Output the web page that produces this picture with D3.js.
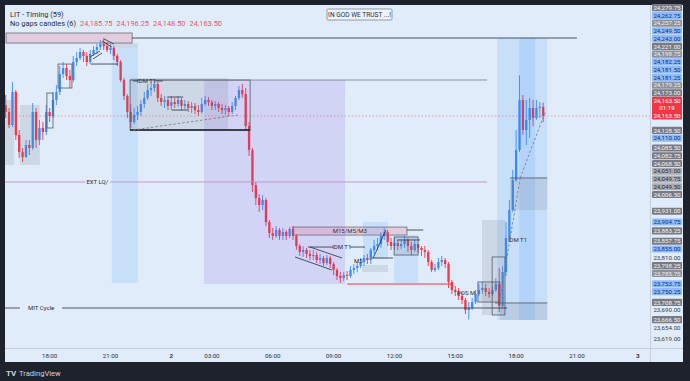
<!DOCTYPE html>
<html><head><meta charset="utf-8">
<script src="https://cdn.jsdelivr.net/npm/d3@7/dist/d3.min.js"></script>
<style>
html,body{margin:0;padding:0;background:#1e222d;overflow:hidden;}
svg{display:block;font-family:Roboto,"Liberation Sans",sans-serif;}
</style></head><body>
<svg id="c" width="690" height="381"></svg>
<script>
// ---------------- DATA ----------------
const sessions = [
  {day: 1, start: "15:50", count: 49},
  {day: 2, start: "01:00", count: 111}
];
const openFirst = 24190.25;
const closes = [
 24173.25,24141.5,24222,24117,24075.5,24063.5,24092.75,24085.5,24173.25,24105,
 24134.25,24124.5,24173.25,24163.5,24202.5,24222,24266,24280.5,24261,24251.25,
 24295.25,24305,24319.5,24310,24295.25,24314.75,24324.5,24331.75,24339,24334.25,
 24324.5,24329.5,24310,24295.25,24251.25,24212.25,24173.25,24148.75,24166,24173.25,
 24192.75,24207.5,24227,24231.75,24241.5,24207.5,24197.5,24202.5,24188,
 24197.5,24192.75,24202.5,24188,24192.75,24183,24188,24178,24173.25,24192.75,
 24202.5,24197.5,24188,24192.75,24183,24178,24183,24173.25,24188,24207.5,
 24227,24217,24139,24080.5,23995,23963.5,23946.25,23958.5,23904.75,23878,
 23870.75,23885.25,23870.75,23880.5,23870.75,23887.75,23870.75,23846.25,23831.5,23836.5,
 23826.75,23822,23824.25,23812,23817,23804.75,23817,23802.25,23787.75,23773,
 23768.25,23775.5,23773,23787.75,23792.5,23797.5,23807.25,23817,23812,23836.5,
 23846.25,23851,23870.75,23880.5,23856,23846.25,23853.5,23846.25,23851,23861,
 23846.25,23836.5,23851,23841.5,23836.5,23831.5,23807.25,23787.75,23792.5,23807.25,
 23812,23802.25,23758.5,23739,23734,23724.25,23714.5,23690,23695,23709.5,
 23729,23739,23743.75,23734,23729,23739,23753.75,23700,23782.75,23865.75,
 23934,24007.25,24080.5,24202.5,24129.25,24153.75,24183,24158.5,24183,24185.75,24163.5
];
const highs = [
 24214.75,24183,24246.5,24227,24129.25,24085.5,24105,24105,24195.25,24183,
 24153.75,24148.75,24190.25,24183,24222,24239,24285.5,24295.25,24290.25,24275.75,
 24310,24319.5,24329.5,24324.5,24319.5,24324.5,24334.25,24339,24349,24353.75,
 24344,24339,24334.25,24314.75,24300,24256.25,24217,24192.75,24183,24188,
 24202.5,24222,24241.5,24246.5,24251.25,24246.5,24217,24212.25,24207.5,
 24212.25,24207.5,24212.25,24207.5,24202.5,24200,24197.5,24195.25,24190.25,24207.5,
 24212.25,24209.75,24202.5,24200,24197.5,24192.75,24190.25,24188,24197.5,24212.25,
 24236.75,24241.5,24231.75,24148.75,24085.5,24002.5,23973,23970.75,23963.5,23909.75,
 23890.25,23895,23890.25,23890.25,23885.25,23892.5,23895,23875.5,23851,23846.25,
 23841.5,23836.5,23836.5,23831.5,23826.75,23822,23824.25,23822,23807.25,23792.5,
 23782.75,23782.75,23785.25,23797.5,23802.25,23807.25,23817,23824.25,23826.75,23841.5,
 23861,23865.75,23880.5,23890.25,23885.25,23865.75,23865.75,23861,23861,23870.75,
 23865.75,23856,23861,23851,23846.25,23846.25,23836.5,23812,23802.25,23817,
 23822,23817,23807.25,23763.25,23748.75,23743.75,23734,23719.5,23709.5,23719.5,
 23739,23753.75,23758.5,23753.75,23743.75,23748.75,23768.25,23792.5,23797.5,23904.75,
 23958.5,24031.75,24129.25,24262.75,24214.75,24202.5,24207.5,24202.5,24202.5,24197.5,24196.25
];
const lows = [
 24158.5,24134.25,24136.5,24105,24061,24051.25,24061,24068.25,24080.5,24085.5,
 24092.75,24105,24117,24148.75,24158.5,24190.25,24214.75,24256.25,24251.25,24231.75,
 24246.5,24285.5,24300,24295.25,24285.5,24290.25,24310,24314.75,24324.5,24324.5,
 24319.5,24314.75,24300,24285.5,24246.5,24202.5,24158.5,24134.25,24144,24153.75,
 24163.5,24183,24202.5,24212.25,24222,24197.5,24188,24183,24178,
 24178,24183,24185.5,24178,24180.5,24173.25,24170.75,24168.25,24163.5,24168.25,
 24188,24188,24178,24178,24173.25,24168.25,24166,24163.5,24168.25,24178,
 24202.5,24207.5,24129.25,24066,23978,23946.25,23929.25,23934,23895,23865.75,
 23861,23865.75,23861,23861,23861,23865.75,23861,23836.5,23822,23819.5,
 23817,23812,23812,23804.75,23802.25,23797.5,23800,23792.5,23775.5,23763.25,
 23756,23760.75,23763.25,23768.25,23778,23782.75,23792.5,23797.5,23802.25,23802.25,
 23826.75,23836.5,23841.5,23861,23846.25,23836.5,23836.5,23836.5,23839,23841.5,
 23831.5,23824.25,23831.5,23829.25,23822,23817,23797.5,23782.75,23782.75,23787.75,
 23797.5,23792.5,23743.75,23729,23724.25,23714.5,23704.75,23680.25,23666.5,23690,
 23704.75,23724.25,23729,23724.25,23719.5,23724.25,23734,23685.25,23695,23773,
 23861,23929.25,24002.5,24075.5,24117,24092.75,24110,24139,24153.75,24158.5,24148.5
];
const tickLabels = ["18:00","21:00","2","03:00","06:00","09:00","12:00","15:00","18:00","21:00","3"];
const tickTimes  = ["1 18:00","1 21:00","2 01:00","2 03:00","2 06:00","2 09:00","2 12:00","2 15:00","2 18:00","2 21:00","3 01:00"];
const axisLabelPrices = [24279.75,24262.75,24257.25,24249.5,24243,24221,24198.75,24182.25,24181.5,24181.25,24179.25,24173,
 24128.5,24110,24085.5,24082.75,24068.5,24051,24049.75,24049.5,24006.5,23931,23904.75,23883.25,23857.75,23855,
 23798.25,23785.75,23753.75,23750.25,23708.75,23666.5];
const axisLabelKinds = ["dark","blue","gray","blue","blue","dark","gray","blue","blue","blue","gray","dark",
 "dark","blue","dark","dark","dark","light","light","light","dark","dark","blue","dark","dark","blue",
 "dark","gray","blue","blue","dark","dark"];
const plainTicks = [24150, 23810, 23770, 23690, 23654, 23619];
const countdown = "01:19";
const legendValues = [24185.75, 24196.25, 24148.50, 24163.50];

// drawings: [barFrom, barTo, priceTop, priceBottom, kind]
const zones = [
 [0.1, 37.4, 24366, 24341.5, "pink"],
 [28.8, 39.1, 24341.5, 24329.5, "gray"],
 [31.4, 39.1, 24329.5, 23756, "blue"],
 [-0.2, 2.5, 24202.5, 24044, "gray"],
 [4.2, 10.1, 24190.25, 24044, "gray"],
 [36.8, 65.8, 24256.25, 24129.25, "gray"],
 [58.7, 100.4, 24251.25, 23753.5, "purple"],
 [85, 118.7, 23892.5, 23873, "pink"],
 [105.7, 113.1, 23904.75, 23815, "blue"],
 [114.9, 122, 23873, 23756, "blue"],
 [105.4, 113.1, 23800, 23782.75, "gray"],
 [114.9, 122, 23868.25, 23824.25, "gray"],
 [140.9, 147.7, 23909.75, 23678, "gray"],
 [139.7, 146.2, 23758.5, 23709.5, "gray"],
 [145.4, 160.2, 24353.75, 23665.75, "blue"],
 [151.9, 156.6, 24353.75, 23665.75, "blue"],
 [149.2, 160.2, 24012.25, 23934, "gray"],
 [146.2, 160.2, 23707.25, 23665.75, "gray"]
];
const boxes = [
 [36.8, 72.3, 24251.25, 24129.25],
 [15.5, 19.6, 24290.25, 24231.75],
 [12.2, 14, 24219.5, 24134.25],
 [114.9, 122, 23868.25, 23824.25],
 [143.9, 147.7, 23819.5, 23678],
 [139.7, 146.2, 23758.5, 23709.5]
];
// [barFrom, priceFrom, barTo, priceTo, kind]
const segments = [
 [37.4, 24353.75, 169, 24353.75, "black"],
 [36.8, 24251.25, 142.4, 24251.25, "thin"],
 [36.8, 24129.25, 72.3, 24129.25, "thick"],
 [-0.2, 24002.5, 23.5, 24002.5, "lq"],
 [30.9, 24002.5, 142.4, 24002.5, "lq"],
 [-0.2, 23695, 4.2, 23695, "black"],
 [16.7, 23695, 148.3, 23695, "black"],
 [101, 23753.5, 132.3, 23753.5, "red"],
 [37.7, 24249, 39.2, 24249, "black"],
 [44.3, 24249, 46.5, 24249, "black"],
 [47.8, 24209.75, 52.5, 24209.75, "black"],
 [49.2, 24178, 53.9, 24178, "black"],
 [37.7, 24129.25, 68.7, 24166, "dash"],
 [25.2, 24290.25, 33.2, 24290.25, "black"],
 [24.9, 24307.4, 27.9, 24322, "black"],
 [25.8, 24302.5, 28.5, 24317.2, "black"],
 [28.5, 24346.5, 31.4, 24331.8, "black"],
 [29.1, 24351.4, 32, 24339.1, "black"],
 [85.6, 23819.5, 96.5, 23787.75, "black"],
 [90, 23843.75, 99.5, 23817, "black"],
 [89.4, 23843.75, 96.8, 23843.75, "black"],
 [101.9, 23843.75, 106.3, 23843.75, "black"],
 [118.7, 23885.25, 123.5, 23885.25, "black"],
 [108.4, 23817, 114.6, 23817, "black"],
 [115.8, 23861, 122.6, 23861, "black"],
 [108.7, 23817, 112.5, 23885.3, "black"],
 [144.8, 23707.25, 160.2, 23707.25, "dark"],
 [149.2, 24012.25, 160.2, 24012.25, "dark"],
 [146.2, 23714.5, 152.2, 24012.25, "dash"],
 [152.2, 24012.25, 159.6, 24173.25, "dash"]
];
// [text, bar, price]
const notes = [
 ["IDM T1", 41.7, 24249],
 ["EXT LQ/", 27.1, 24002.5],
 ["MIT Cycle", 10.5, 23695],
 ["M15/M5/M3", 101.8, 23882.75],
 ["IDM T1", 99.4, 23843.75],
 ["M5", 104.3, 23810],
 ["POS M", 136.2, 23731.5],
 ["IDM T1", 151.4, 23861]
];

// ---------------- CHART ----------------
const svg = d3.select("#c");
const BG = "#e0ecfa";
const L = 5, R = 650, T = 5, B = 348, AXR = 683, BOT = 362;

function barIndex(day, hh, mm) {
  const t = (day - 1) * 1440 + hh * 60 + mm;
  return (t - 950 - (day - 1) * 60) / 10;
}
function parseT(s) { const [d, hm] = s.split(" "); const [h, m] = hm.split(":").map(Number); return barIndex(+d, h, m); }

const bars = [];
sessions.forEach(s => {
  const [h, m] = s.start.split(":").map(Number);
  for (let i = 0; i < s.count; i++) {
    const mins = h * 60 + m + 10 * i;
    bars.push(barIndex(s.day, Math.floor(mins / 60), mins % 60));
  }
});
const data = bars.map((k, i) => ({
  k, o: i === 0 ? openFirst : closes[i - 1], h: highs[i], l: lows[i], c: closes[i]
}));

const x = d3.scaleLinear().domain([-0.2, 190.6]).range([L, R]);
const y = d3.scaleLinear().domain([23597.4, 24434.3]).range([B, T]);

// frame
svg.append("rect").attr("x", 0).attr("y", 0).attr("width", 690).attr("height", 381).attr("fill", "#1e222d");
svg.append("rect").attr("x", L).attr("y", T).attr("width", AXR - L).attr("height", BOT - T).attr("fill", BG);

const clip = svg.append("defs").append("clipPath").attr("id", "plot");
clip.append("rect").attr("x", L).attr("y", T).attr("width", R - L).attr("height", B - T);
const plot = svg.append("g").attr("clip-path", "url(#plot)");

// candles
const up = "#3d8cf5", dn = "#f23645";
const bw = 2.3;
const cg = plot.append("g");
cg.selectAll("line.w").data(data).join("line")
  .attr("x1", d => x(d.k)).attr("x2", d => x(d.k))
  .attr("y1", d => y(d.h)).attr("y2", d => y(d.l))
  .attr("stroke", d => d.c >= d.o ? up : dn).attr("stroke-width", 0.9);
cg.selectAll("rect.b").data(data).join("rect")
  .attr("x", d => x(d.k) - bw / 2).attr("width", bw)
  .attr("y", d => y(Math.max(d.o, d.c)))
  .attr("height", d => Math.max(1, Math.abs(y(d.o) - y(d.c))))
  .attr("fill", d => d.c >= d.o ? up : dn);

// zones
const zoneFill = {
  pink: "rgba(232,92,130,0.22)", gray: "rgba(110,118,135,0.17)",
  blue: "rgba(40,140,245,0.13)", purple: "rgba(130,90,220,0.16)"
};
plot.append("g").selectAll("rect").data(zones).join("rect")
  .attr("x", d => x(d[0])).attr("width", d => x(d[1]) - x(d[0]))
  .attr("y", d => y(d[2])).attr("height", d => y(d[3]) - y(d[2]))
  .attr("fill", d => zoneFill[d[4]])
  .attr("stroke", d => d[4] === "pink" ? "#6b6b75" : "none").attr("stroke-width", 0.8);
plot.append("g").selectAll("rect").data(boxes).join("rect")
  .attr("x", d => x(d[0])).attr("width", d => x(d[1]) - x(d[0]))
  .attr("y", d => y(d[2])).attr("height", d => y(d[3]) - y(d[2]))
  .attr("fill", "none").attr("stroke", "#555a66").attr("stroke-width", 0.8);

// current price line
const last = data[data.length - 1].c;
plot.append("line").attr("x1", L).attr("x2", R).attr("y1", y(last)).attr("y2", y(last))
  .attr("stroke", "#f23645").attr("stroke-opacity", 0.55).attr("stroke-dasharray", "1.5,2").attr("stroke-width", 0.8);

// segments
const segStyle = {
  black: ["#2a2e39", 0.8, null], thin: ["#6a7080", 0.7, null], thick: ["#1b1e26", 1.6, null],
  lq: ["#c690c8", 0.9, null], red: ["#f23645", 1, null], dash: ["#7b808c", 0.9, "2.5,2"], dark: ["#5a5f6b", 0.9, null]
};
plot.append("g").selectAll("line").data(segments).join("line")
  .attr("x1", d => x(d[0])).attr("y1", d => y(d[1])).attr("x2", d => x(d[2])).attr("y2", d => y(d[3]))
  .attr("stroke", d => segStyle[d[4]][0]).attr("stroke-width", d => segStyle[d[4]][1])
  .attr("stroke-dasharray", d => segStyle[d[4]][2]);

plot.append("g").selectAll("text").data(notes).join("text")
  .attr("x", d => x(d[1])).attr("y", d => y(d[2]) + 2.1)
  .attr("text-anchor", "middle").attr("font-size", 6).attr("fill", "#2a2e39").text(d => d[0]);

// separators
svg.append("line").attr("x1", L).attr("x2", AXR).attr("y1", B + 0.5).attr("y2", B + 0.5).attr("stroke", "#c3cddb").attr("stroke-width", 1);
svg.append("line").attr("x1", R + 0.5).attr("x2", R + 0.5).attr("y1", T).attr("y2", BOT).attr("stroke", "#c3cddb").attr("stroke-width", 1);

// time axis
svg.append("g").selectAll("text").data(tickLabels).join("text")
  .attr("x", (d, i) => x(parseT(tickTimes[i]))).attr("y", 357.5)
  .attr("text-anchor", "middle").attr("font-size", 6.2)
  .attr("font-weight", d => d.length === 1 ? "bold" : "normal")
  .attr("fill", "#2a2e39").text(d => d);

// price axis: coloured labels stacked away from the last-price box
const fmt = d3.format(",.2f");
const LH = 7.75;
const ag = svg.append("g");
const yl = y(last);
const boxTop = yl - 19.2, boxBot = yl + 3.6;
const lab = axisLabelPrices.map((p, i) => ({p, kind: axisLabelKinds[i], cy: y(p)}));
let edge = boxTop;
lab.filter(d => d.p > last).sort((a, b) => a.p - b.p).forEach(d => { d.cy = Math.min(d.cy, edge - LH / 2); edge = d.cy - LH / 2; });
edge = boxBot;
lab.filter(d => d.p < last).sort((a, b) => b.p - a.p).forEach(d => { d.cy = Math.max(d.cy, edge + LH / 2); edge = d.cy + LH / 2; });

// plain scale ticks fit into the free gaps between coloured labels
const occupied = lab.map(d => [d.cy - LH / 2, d.cy + LH / 2]).concat([[boxTop, boxBot]]).sort((a, b) => a[0] - b[0]);
const plainPlaced = [];
plainTicks.forEach(p => {
  const ty = y(p);
  let best = null;
  // candidate gaps
  const ints = [[T, T]].concat(occupied).concat([[B, B]]);
  for (let i = 0; i < ints.length - 1; i++) {
    const lo = ints[i][1] + LH / 2, hi = ints[i + 1][0] - LH / 2;
    if (hi < lo - 0.01) continue;
    const c = Math.max(lo, Math.min(hi, ty));
    if (Math.abs(c - ty) <= 4.5 && (best === null || Math.abs(c - ty) < Math.abs(best - ty))) best = c;
  }
  if (best !== null) { plainPlaced.push({p, cy: best}); occupied.push([best - LH / 2, best + LH / 2]); occupied.sort((a, b) => a[0] - b[0]); }
});
ag.selectAll("text.p").data(plainPlaced).join("text")
  .attr("x", 667).attr("y", d => d.cy + 2.2).attr("text-anchor", "middle")
  .attr("font-size", 6.2).attr("fill", "#3a3e48").text(d => fmt(d.p));

const kindFill = {blue: "#8fbcf7", dark: "#787b84", gray: "#8e9199", light: "#a9acb3"};
const kindText = {blue: "#0f2d86", dark: "#f2f3f5", gray: "#eceef2", light: "#2f323a"};
const lg = ag.selectAll("g.l").data(lab).join("g");
lg.append("rect").attr("x", 652).attr("width", 30).attr("y", d => d.cy - LH / 2 + 0.3).attr("height", LH - 0.6)
  .attr("rx", 1).attr("fill", d => kindFill[d.kind]);
lg.append("text").attr("x", 667).attr("y", d => d.cy + 2.2).attr("text-anchor", "middle")
  .attr("font-size", 6.2).attr("fill", d => kindText[d.kind]).text(d => fmt(d.p));
ag.append("rect").attr("x", 652).attr("width", 30).attr("y", boxTop).attr("height", boxBot - boxTop).attr("rx", 1).attr("fill", "#f23645");
[[fmt(last), yl - 15.6], [countdown, yl - 7.8], [fmt(last), yl]].forEach(([t, cy]) => {
  ag.append("text").attr("x", 667).attr("y", cy + 2.2).attr("text-anchor", "middle")
    .attr("font-size", 6.2).attr("fill", "#ffffff").text(t);
});

// legend
svg.append("text").attr("x", 10).attr("y", 16.8).attr("font-size", 7.4).attr("fill", "#2a2e39").text("LIT - Timing (59)");
const leg = svg.append("text").attr("x", 10).attr("y", 26.3).attr("font-size", 7.4);
leg.append("tspan").attr("fill", "#2a2e39").text("No gaps candles (6)");
legendValues.forEach(v => leg.append("tspan").attr("dx", 4).attr("fill", "#f0525e").text(fmt(v)));

// header note box
const hb = svg.append("g");
hb.append("rect").attr("x", 327).attr("y", 9).attr("width", 65).attr("height", 11)
  .attr("fill", "#edf3fb").attr("stroke", "#7d8796").attr("stroke-width", 0.8).attr("rx", 1);
hb.append("text").attr("x", 359.5).attr("y", 17).attr("text-anchor", "middle")
  .attr("font-size", 6.6).attr("fill", "#2a2e39").text("IN GOD WE TRUST ...!");

// TradingView footer
const ft = svg.append("g");
ft.append("text").attr("x", 6).attr("y", 376).attr("font-size", 8).attr("font-weight", "bold").attr("fill", "#d1d4dc").text("TV");
ft.append("text").attr("x", 19).attr("y", 376).attr("font-size", 7.6).attr("fill", "#d1d4dc").text("TradingView");
</script>
</body></html>
